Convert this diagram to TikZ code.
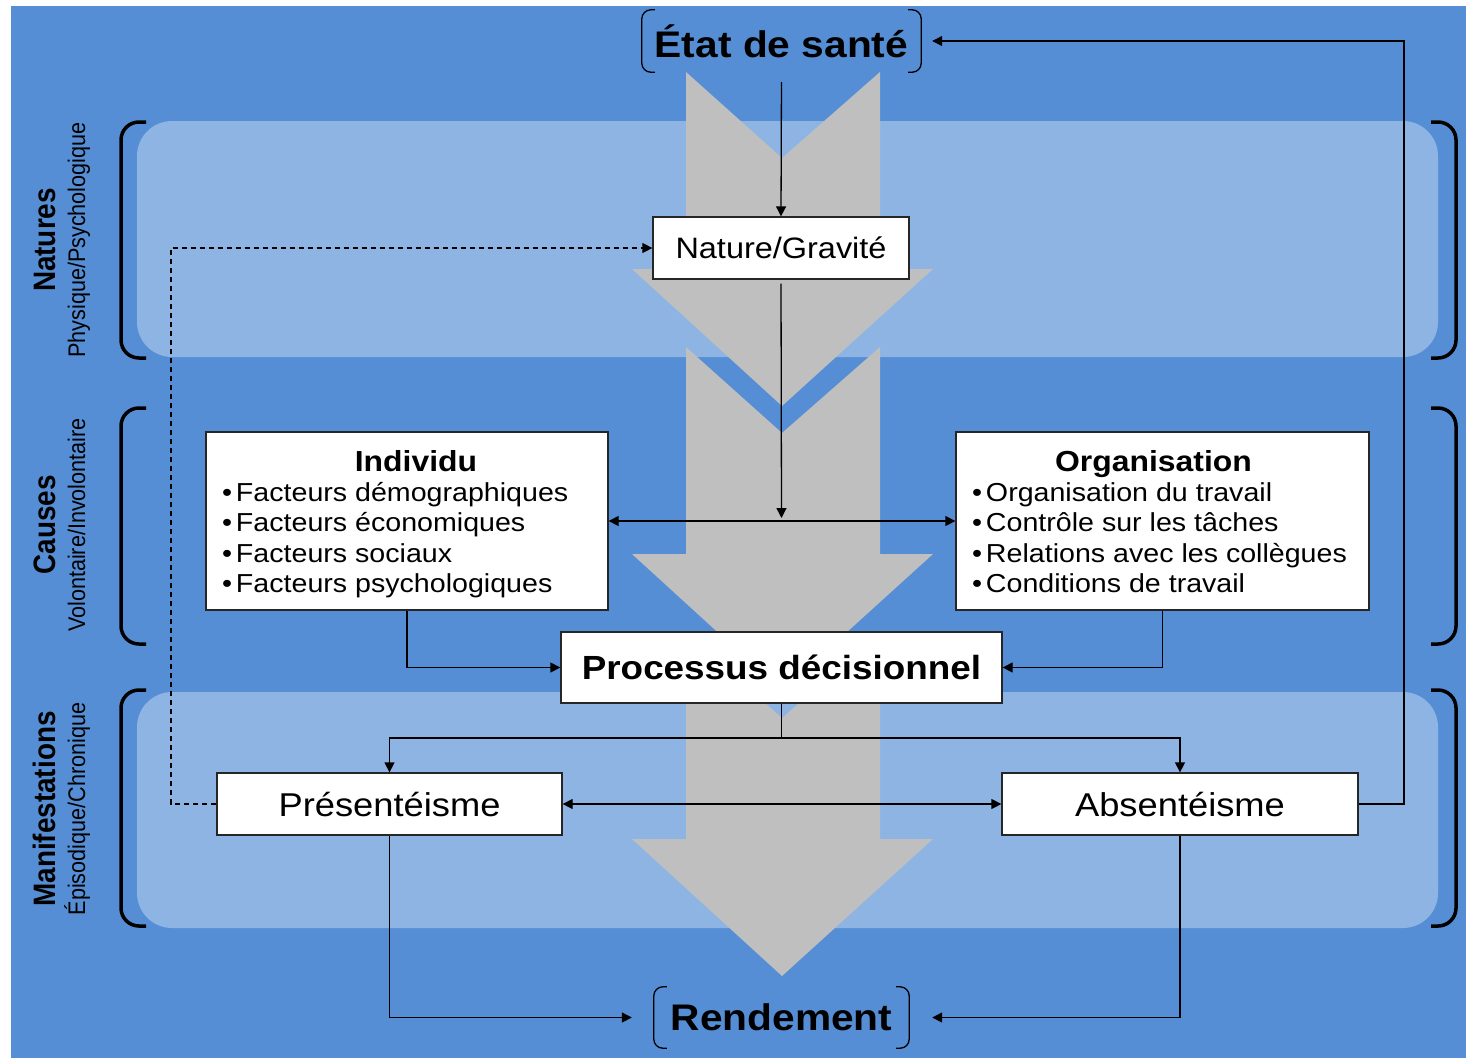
\documentclass[tikz,border=0pt]{standalone}
\usepackage{fontspec}
\setmainfont{Liberation Sans}[FakeStretch=1.1]
\newfontfamily\sidefont{Liberation Sans}[FakeStretch=0.9]
\usetikzlibrary{arrows.meta}
\definecolor{bgblue}{HTML}{558ED5}
\definecolor{bandblue}{HTML}{8EB4E3}
\definecolor{chevron}{HTML}{BFBFBF}
\newcommand{\fs}[1]{\fontsize{#1}{#1}\selectfont}
\newcommand{\itm}{\par\textbullet\hspace{4pt}}

\begin{document}
\begin{tikzpicture}[x=1pt,y=-1pt,>={Triangle[length=10pt,width=10pt]}]
  \tikzstyle{box}=[draw=black!85, fill=white, line width=1.3pt, inner sep=0pt]
  \tikzstyle{listbox}=[box, inner xsep=16pt, minimum height=178pt, align=flush left,
    font=\fontsize{26}{30.3}\selectfont]
  \tikzstyle{link}=[line width=1.3pt]
  \tikzstyle{brk}=[line width=1.3pt, rounded corners=9pt]
  \tikzstyle{sidebrk}=[line width=3.5pt, rounded corners=18pt]
  \useasboundingbox (0,0) rectangle (1466,1058);
  % background, bands and the three grey chevrons
  \fill[white] (0,0) rectangle (1466,1058);
  \fill[bgblue] (11,6) rectangle (1466,1058);
  \foreach \y in {121,692}
    \fill[bandblue, rounded corners=35pt] (137,\y) rectangle (1438,\y+236);
  \foreach \t/\b in {72/269,347/554,632/839}
    \fill[chevron] (686,\t) -- (782,\t+86) -- (880,\t) -- (880,\b) -- (933,\b)
      -- (782,\b+137) -- (632,\b) -- (686,\b) -- cycle;
  % side brackets and labels
  \foreach \t in {122,408,690} {
    \draw[sidebrk] (146,\t) -- (121,\t) -- (121,\t+236) -- (146,\t+236);
    \draw[sidebrk] (1431,\t) -- (1456,\t) -- (1456,\t+236) -- (1431,\t+236);
  }
  \foreach \y/\a/\b in {240/Natures/{Physique/Psychologique},
      525/Causes/{Volontaire/Involontaire},
      809/Manifestations/{Épisodique/Chronique}} {
    \node[rotate=90, anchor=base] (lab-\a) at (55,\y) {\sidefont\fs{31}\bfseries \a};
    \node[rotate=90, anchor=base] (sub-\a) at (85,\y) {\sidefont\fs{24}\b};
  }
  % nodes
  \node[minimum width=279pt, minimum height=62pt, inner sep=0pt]
    (etat) at (781.5,41) {\fs{37}\bfseries État de santé};
  \node[box, minimum width=256pt, minimum height=62pt]
    (nature) at (781,248) {\fs{29.5}Nature/Gravité};
  \node[listbox, text width=370pt] (individu) at (407,521) {%
      {\centering\bfseries\fontsize{29}{30.3}\selectfont\rule{0pt}{27pt}\hspace*{18pt}Individu\par}
      \textbullet\hspace{4pt}Facteurs démographiques
      \itm Facteurs économiques
      \itm Facteurs sociaux
      \itm Facteurs psychologiques\par};
  \node[listbox, text width=381pt] (organisation) at (1162.5,521) {%
      {\centering\bfseries\fontsize{29}{30.3}\selectfont\rule{0pt}{27pt}Organisation\hspace*{18pt}\par}
      \textbullet\hspace{4pt}Organisation du travail
      \itm Contrôle sur les tâches
      \itm Relations avec les collègues
      \itm Conditions de travail\vphantom{g}\par};
  \node[box, minimum width=441pt, minimum height=71pt]
    (processus) at (781.5,667.5) {\fs{33.5}\bfseries Processus décisionnel};
  \node[box, minimum width=345pt, minimum height=62pt]
    (presenteisme) at (389.5,804) {\fs{33}Présentéisme};
  \node[box, minimum width=356pt, minimum height=62pt]
    (absenteisme) at (1180,804) {\fs{33}Absentéisme};
  \node[minimum width=255pt, minimum height=61pt, inner sep=0pt]
    (rendement) at (781.5,1017.5) {\fs{37}\bfseries Rendement};
  \foreach \n in {etat,rendement} {
    \draw[brk] ([xshift=13pt]\n.north west) -- (\n.north west)
      -- (\n.south west) -- ([xshift=13pt]\n.south west);
    \draw[brk] ([xshift=-13pt]\n.north east) -- (\n.north east)
      -- (\n.south east) -- ([xshift=-13pt]\n.south east);
  }
  % connectors
  \coordinate (cross) at (781.5,521);
  \coordinate (split) at (781.5,738);
  \coordinate (rtop) at (1404,41);
  \coordinate (ltop) at (171,248);
  \draw[link,->,shorten <=10pt] (etat.south) -- (nature.north);
  \draw[link,->,shorten <=4pt,shorten >=3pt] (nature.south) -- (cross);
  \draw[link,<->] (individu.east) -- (organisation.west);
  \draw[link,->] (individu.south) |- (processus.west);
  \draw[link,->] (organisation.south) |- (processus.east);
  \draw[link] (processus.south) -- (split);
  \draw[link,->] (split) -| (presenteisme.north);
  \draw[link,->] (split) -| (absenteisme.north);
  \draw[link,<->] (presenteisme.east) -- (absenteisme.west);
  \draw[link,->,shorten >=22pt] (presenteisme.south) |- (rendement.west);
  \draw[link,->,shorten >=23pt] (absenteisme.south) |- (rendement.east);
  \draw[link,->,shorten >=11pt] (absenteisme.east) -| (rtop) -- (etat.east);
  \draw[link,->,dash pattern=on 5pt off 4pt] (presenteisme.west) -| (ltop) -- (nature.west);
\end{tikzpicture}
\end{document}
